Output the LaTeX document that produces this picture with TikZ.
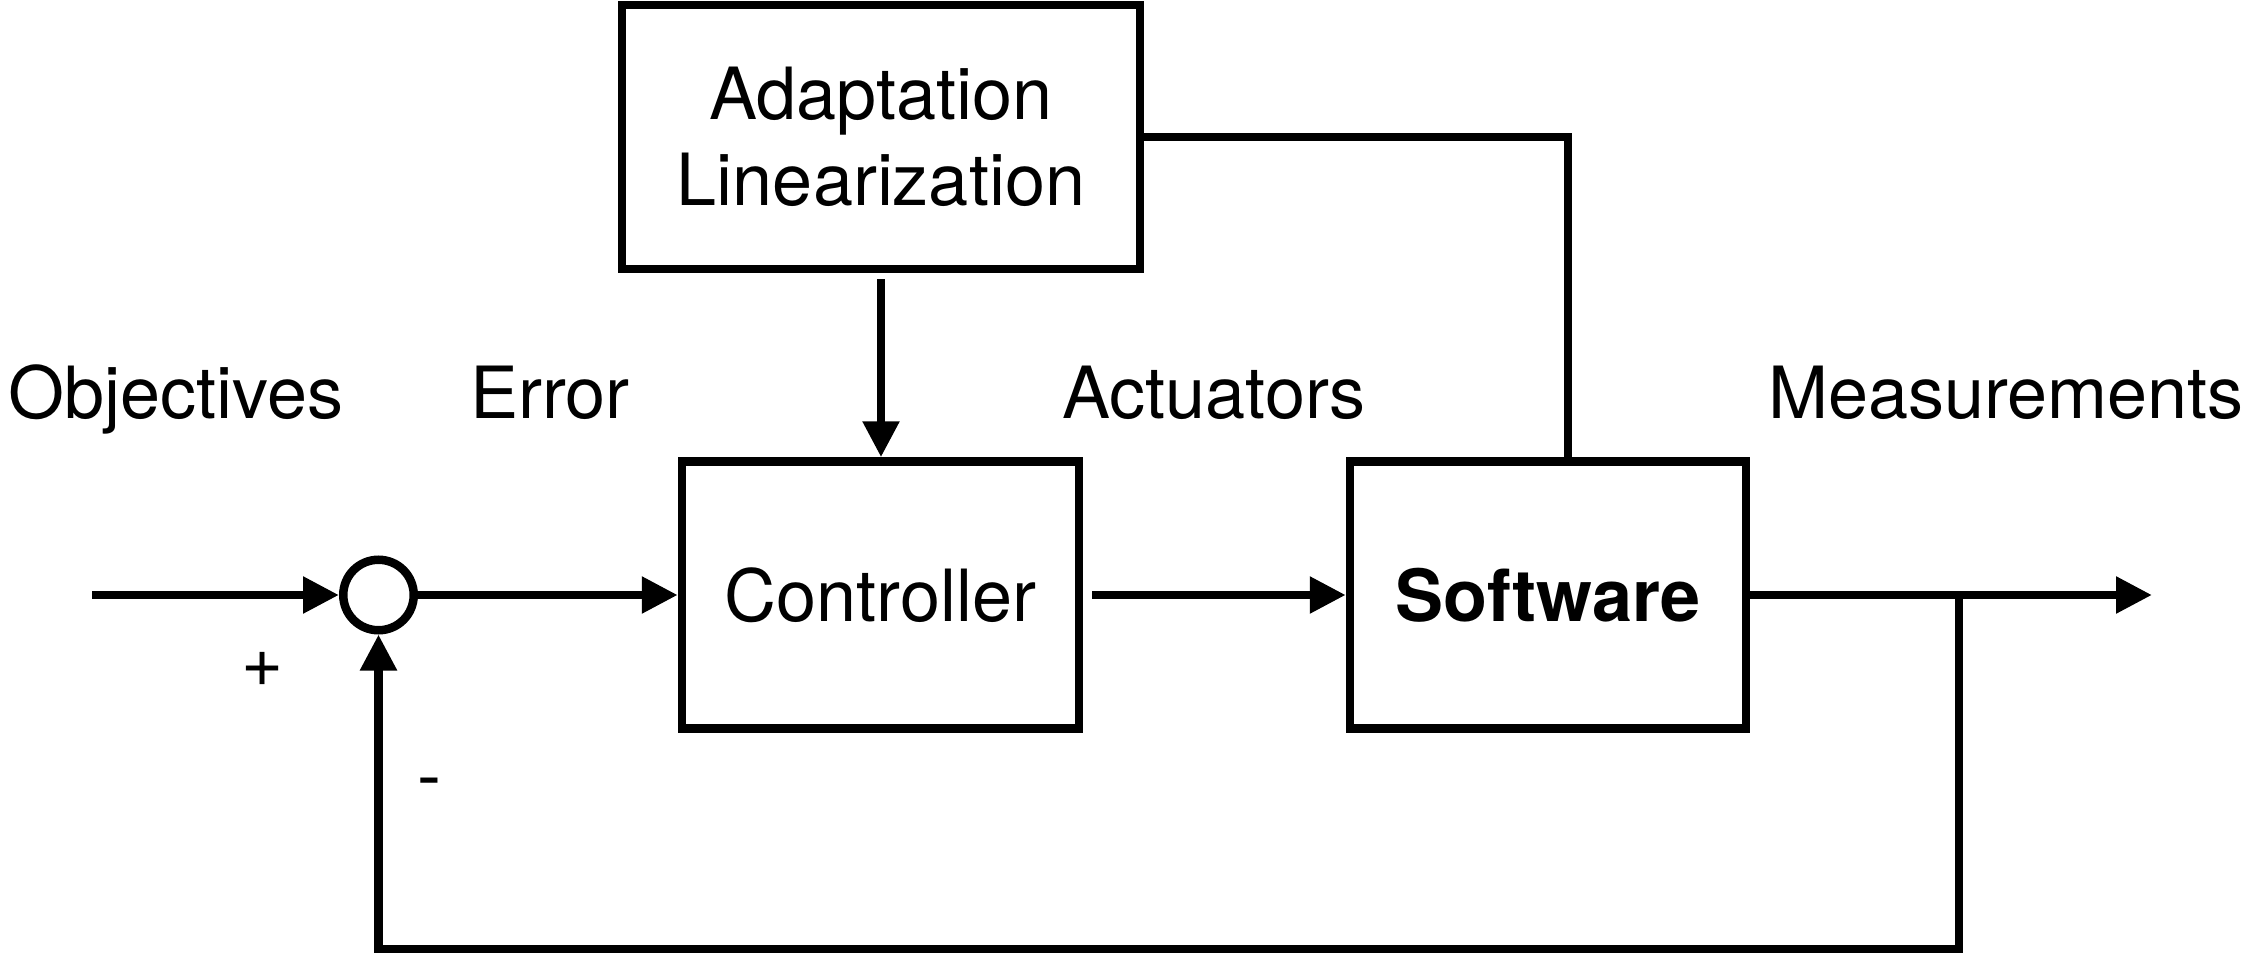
\documentclass[tikz,border=0pt]{standalone}
\usepackage{fontspec}
\setmainfont{TeX Gyre Heros}
\usetikzlibrary{arrows.meta}

\tikzset{
  wire/.style={line width=4.25pt, line join=miter},
  arr/.style={wire, -{Triangle[length=18pt,width=17.5pt]}},
  txt/.style={font=\fontsize{36}{43}\selectfont},
  block/.style={draw, line width=4.25pt, inner sep=0pt, align=center,
                minimum width=198.5pt, minimum height=133.5pt, txt},
  lbl/.style={anchor=base, inner sep=0pt, txt},
}

\begin{document}
\begin{tikzpicture}[x=0.5pt, y=-0.5pt]
  \useasboundingbox (0,0) rectangle (2247,957);

  % blocks
  \node[block, minimum width=259pt, minimum height=132pt] (adapt) at (881,137)
       {\raisebox{-3pt}{Adaptation}\\\raisebox{-3pt}{Linearization}};
  \node[block] (ctrl) at (880.5,595) {Controller};
  \node[block, minimum width=198pt, font=\fontsize{36}{43}\selectfont\bfseries] (sw) at (1548,595) {Software};
  \node[circle, draw, line width=4.25pt, minimum size=35.25pt, inner sep=0pt] (sum) at (378.5,595) {};

  % signal labels
  \node[lbl] (obj)  at (176,418)  {Objectives};
  \node[lbl] (err)  at (550,418)  {Error};
  \node[lbl] (act)  at (1214,418) {Actuators};
  \node[lbl] (meas) at (2006,418) {Measurements};
  \node[txt, inner sep=0pt] (plus) at (263,669) {+};
  \node[lbl] (minus) at (429,800) {-};

  % free ends and branch points
  \coordinate (src) at (92,595);
  \coordinate (out) at (2152,595);
  \coordinate (tap) at (1959,595);
  \coordinate (low) at (1959,949);

  % connectors
  \draw[arr] (src) -- (sum.west);
  \draw[arr] (sum.east) -- (ctrl.west);
  \draw[arr] ([xshift=4.5pt]ctrl.east) -- (sw.west);
  \draw[arr] (sw.east) -- (out);
  \draw[arr] (tap) -- (low) -| (sum.south);
  \draw[arr] ([yshift=-3pt]adapt.south) -- (adapt.south |- ctrl.north);
  \draw[wire] (adapt.east) -| ([xshift=10pt]sw.north);
\end{tikzpicture}
\end{document}
